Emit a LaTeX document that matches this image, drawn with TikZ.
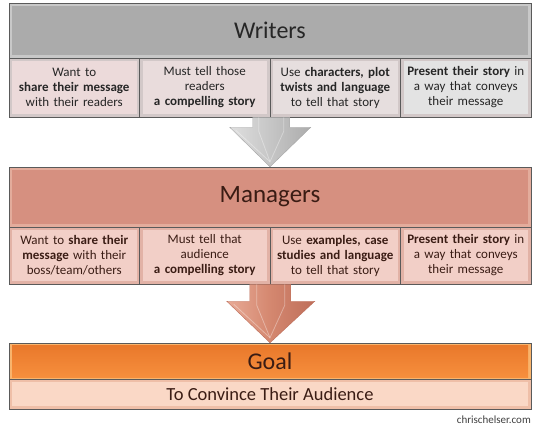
\documentclass[tikz,border=0pt]{standalone}
\usepackage{fontspec}
\setmainfont{Carlito}
\usetikzlibrary{calc}
\definecolor{bordc}{HTML}{5A5A5A}
\definecolor{wedge}{HTML}{C8C8C8}
\definecolor{wmain}{HTML}{ABABAB}
\definecolor{wc1}{HTML}{ECDADA}
\definecolor{wc2}{HTML}{E9DCDC}
\definecolor{wc3}{HTML}{E6DEDE}
\definecolor{wc4}{HTML}{E3E3E3}
\definecolor{wcedge}{HTML}{D2C8C8}
\definecolor{medge}{HTML}{E3AC9C}
\definecolor{mmain}{HTML}{D69080}
\definecolor{mcmain}{HTML}{F2CFC7}
\definecolor{mcedge}{HTML}{E2B2A6}
\definecolor{gedge}{HTML}{F9B46C}
\definecolor{gtop}{HTML}{E8772A}
\definecolor{gbot}{HTML}{F7903E}
\definecolor{gsmain}{HTML}{FAD8C6}
\definecolor{gsedge}{HTML}{EFBFA8}
\definecolor{txt}{HTML}{262626}
\definecolor{mtxt}{HTML}{3A1C14}
\definecolor{a2l}{HTML}{E8AA96}
\definecolor{a2m}{HTML}{D4876F}
\definecolor{a2r}{HTML}{BE6E5A}
\begin{document}
\begin{tikzpicture}[x=1pt,y=-1pt,
  box/.style n args={2}{draw=bordc, line width=0.5pt, fill=#1, inner sep=0pt,
    path picture={\fill[#2] ($(path picture bounding box.north west)+(3,3)$) rectangle ($(path picture bounding box.south east)+(-3,-3)$);}},
  hdr/.style={minimum width=522pt, text=txt},
  cell/.style={minimum width=130.5pt, text width=126pt, align=center, text=txt,
    font=\fontsize{13}{15}\selectfont},
  wcell/.style={cell, minimum height=59pt},
  mcell/.style={cell, minimum height=57pt, text=mtxt},
  facet/.style={white, opacity=0.35, line width=0.8pt},
]
\useasboundingbox[fill=white] (0,0) rectangle (540,429);

% Writers
\node[box={wedge}{wmain}, hdr, minimum height=55pt, font=\fontsize{24}{26}\selectfont] (W) at (270,30.5) {Writers};
\node[box={wcedge}{wc1}, wcell] (W1) at (74.25,87.5) {Want to\\\textbf{share their message}\\with their readers};
\node[box={wcedge}{wc2}, wcell] (W2) at (204.75,87.5) {Must tell those\\readers\\\textbf{a compelling story}};
\node[box={wcedge}{wc3}, wcell] (W3) at (335.25,87.5) {Use \textbf{characters, plot}\\\textbf{twists and language}\\to tell that story};
\node[box={wcedge}{wc4}, wcell] (W4) at (465.75,87.5) {\textbf{Present their story} in\\a way that conveys\\their message};

% Managers
\node[box={medge}{mmain}, hdr, minimum height=60pt, text=mtxt, font=\fontsize{25}{27}\selectfont] (M) at (270,197) {Managers};
\node[box={mcedge}{mcmain}, mcell] (M1) at (74.25,255.5) {Want to \textbf{share their}\\\textbf{message} with their\\boss/team/others};
\node[box={mcedge}{mcmain}, mcell] (M2) at (204.75,255.5) {Must tell that\\audience\\\textbf{a compelling story}};
\node[box={mcedge}{mcmain}, mcell] (M3) at (335.25,255.5) {Use \textbf{examples, case}\\\textbf{studies and language}\\to tell that story};
\node[box={mcedge}{mcmain}, mcell] (M4) at (465.75,255.5) {\textbf{Present their story} in\\a way that conveys\\their message};

% Goal
\node[draw=bordc, line width=0.5pt, fill=gedge, inner sep=0pt, hdr, minimum height=36pt, text=mtxt,
  font=\fontsize{24}{26}\selectfont,
  path picture={\shade[top color=gtop, bottom color=gbot] ($(path picture bounding box.north west)+(3,2)$) rectangle ($(path picture bounding box.south east)+(-3,-2)$);}] (G) at (270,361) {Goal};
\node[box={gsedge}{gsmain}, minimum width=522pt, minimum height=30pt, text=mtxt,
  font=\fontsize{18.5}{20}\selectfont] (GS) at (270,394) {To Convince Their Audience};

% Arrow 1
\coordinate (a1) at (W3.south west);
\shade[left color=gray!25, right color=gray!65, middle color=gray!45, draw=gray!70, line width=0.4pt]
  ($(a1)+(-17,0)$) -- ($(a1)+(20,0)$) -- ($(a1)+(20,10)$) -- ($(a1)+(41,10)$) -- (M.north)
  -- ($(a1)+(-40,10)$) -- ($(a1)+(-17,10)$) -- cycle;
\draw[facet] ($(a1)+(-11,0)$) -- ($(a1)+(-11,14)$) -- ($(M.north)+(0,-5)$) -- ($(a1)+(14,14)$) -- ($(a1)+(14,0)$);
\draw[facet] ($(a1)+(-34,13)$) -- ($(M.north)+(0,-5)$);
% Arrow 2
\coordinate (a2) at (M3.south west);
\shade[left color=a2l, right color=a2r, middle color=a2m, draw=a2r, line width=0.4pt]
  ($(a2)+(-20,0)$) -- ($(a2)+(21,0)$) -- ($(a2)+(21,17)$) -- ($(a2)+(45,17)$) -- (G.north)
  -- ($(a2)+(-43,17)$) -- ($(a2)+(-20,17)$) -- cycle;
\draw[facet] ($(a2)+(-13,0)$) -- ($(a2)+(-13,21)$) -- ($(G.north)+(0,-5)$) -- ($(a2)+(15,21)$) -- ($(a2)+(15,0)$);
\draw[facet] ($(a2)+(-36,20)$) -- ($(G.north)+(0,-5)$);

\node[anchor=east, font=\fontsize{11}{12}\selectfont, text=black!75, inner sep=0pt] (cr) at (531,420) {chrischelser.com};
\end{tikzpicture}
\end{document}
